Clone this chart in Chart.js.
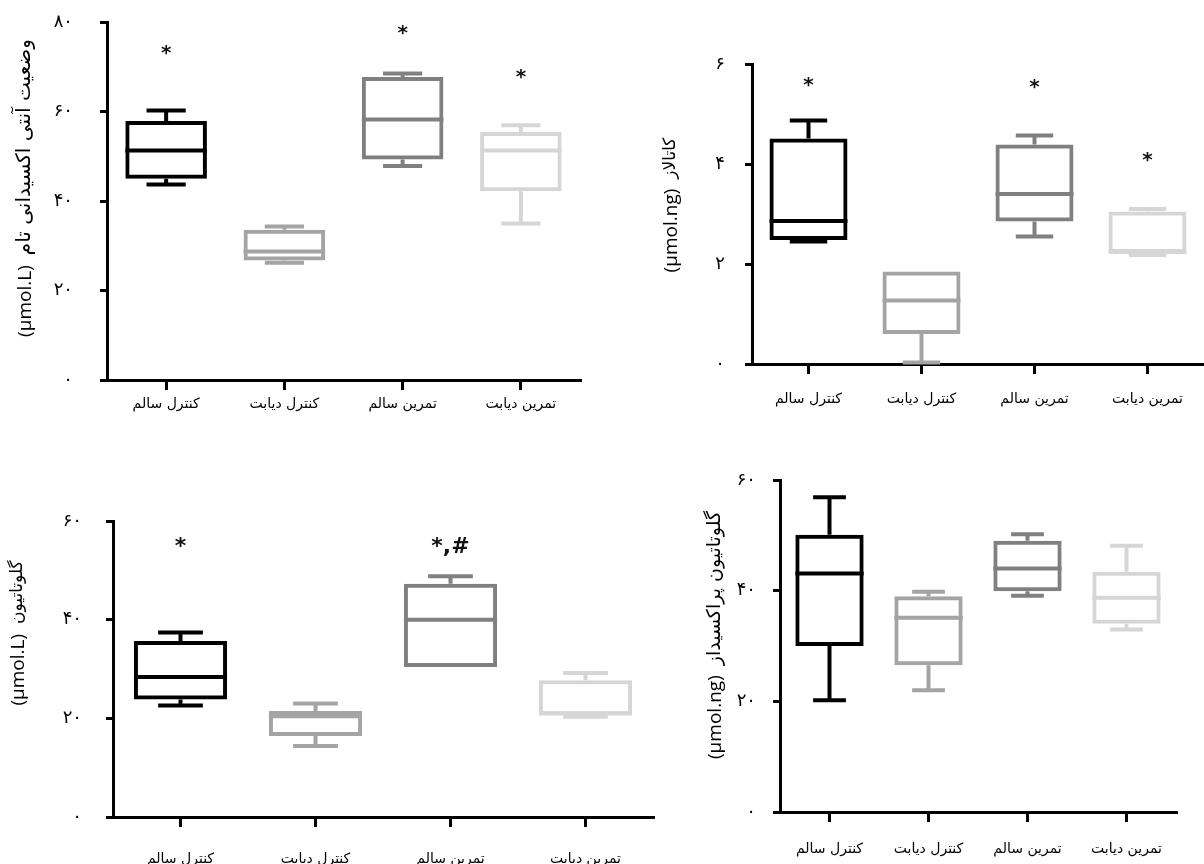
<!DOCTYPE html>
<html lang="fa">
<head>
<meta charset="utf-8">
<title>Box plots</title>
<script src="https://cdn.jsdelivr.net/npm/chart.js@4.4.1/dist/chart.umd.min.js"></script>
<style>
  html, body { margin: 0; padding: 0; background: #fff; }
  body { width: 1204px; height: 864px; position: relative; overflow: hidden; }
  canvas { position: absolute; }
</style>
</head>
<body>
<canvas id="tao" width="600" height="450" style="left:0;top:-20px"></canvas>
<canvas id="cat" width="594" height="430" style="left:610px;top:0"></canvas>
<canvas id="gsh" width="670" height="424" style="left:0;top:440px"></canvas>
<canvas id="gpx" width="524" height="424" style="left:680px;top:440px"></canvas>
<script>
const groups = ['کنترل سالم', 'کنترل دیابت', 'تمرین سالم', 'تمرین دیابت'];
const boxColors = ['#000000', '#a4a4a4', '#808080', '#d6d6d6'];

// total antioxidant status
const taoMin = [43.7, 26.2, 47.8, 35.0];
const taoQ1 = [45.0, 26.7, 49.3, 42.2];
const taoMed = [51.3, 28.7, 58.2, 51.3];
const taoQ3 = [57.9, 33.6, 67.7, 55.4];
const taoMax = [60.2, 34.3, 68.5, 56.9];
const taoMarks = ['*', '', '*', '*'];
const taoMarkAt = [73, null, 77.4, 67.6];
const taoTicks = [0, 20, 40, 60, 80];

// catalase
const catMin = [2.45, 0.03, 2.55, 2.18];
const catQ1 = [2.48, 0.60, 2.85, 2.22];
const catMed = [2.86, 1.27, 3.40, 2.24];
const catQ3 = [4.51, 1.85, 4.39, 3.05];
const catMax = [4.87, 1.85, 4.57, 3.10];
const catMarks = ['*', '', '*', '*'];
const catMarkAt = [5.57, null, 5.52, 4.07];
const catTicks = [0, 2, 4, 6];

// glutathione
const gshMin = [22.6, 14.4, 30.4, 20.3];
const gshQ1 = [23.8, 16.4, 30.4, 20.6];
const gshMed = [28.4, 20.4, 40.0, 21.0];
const gshQ3 = [35.7, 21.5, 47.3, 27.7];
const gshMax = [37.4, 23.0, 48.8, 29.2];
const gshMarks = ['*', '', '*,#', ''];
const gshMarkAt = [54.7, null, 54.7, null];
const gshTicks = [0, 20, 40, 60];

// glutathione peroxidase
const gpxMin = [20.2, 22.0, 39.1, 33.0];
const gpxQ1 = [30.0, 26.5, 39.9, 34.0];
const gpxMed = [43.1, 35.1, 44.0, 38.7];
const gpxQ3 = [50.1, 39.0, 49.0, 43.4];
const gpxMax = [56.9, 39.8, 50.2, 48.1];
const gpxMarks = ['', '', '', ''];
const gpxMarkAt = [null, null, null, null];
const gpxTicks = [0, 20, 40, 60];

Chart.defaults.font.family = '"DejaVu Sans", sans-serif';
Chart.defaults.color = '#000';

function fa(v) {
  return String(v).replace(/\d/g, d => '۰۱۲۳۴۵۶۷۸۹'[d]);
}

function makeBoxChart(id, s, lay) {
  const boxes = {
    id: 'boxes',
    afterDatasetsDraw(chart) {
      const ctx = chart.ctx;
      const y = chart.scales.y;
      const meta = chart.getDatasetMeta(0);
      meta.data.forEach((bar, i) => {
        const x = bar.x, w = bar.width, cap = w * 0.24;
        const pMax = y.getPixelForValue(s.max[i]);
        const pQ3 = y.getPixelForValue(s.q3[i]);
        const pMed = y.getPixelForValue(s.med[i]);
        const pQ1 = y.getPixelForValue(s.q1[i]);
        const pMin = y.getPixelForValue(s.min[i]);
        ctx.save();
        ctx.strokeStyle = boxColors[i];
        ctx.lineWidth = 4;
        ctx.beginPath();
        if (s.max[i] > s.q3[i]) {
          ctx.moveTo(x, pQ3); ctx.lineTo(x, pMax);
          ctx.moveTo(x - cap, pMax); ctx.lineTo(x + cap, pMax);
        }
        if (s.min[i] < s.q1[i]) {
          ctx.moveTo(x, pQ1); ctx.lineTo(x, pMin);
          ctx.moveTo(x - cap, pMin); ctx.lineTo(x + cap, pMin);
        }
        ctx.moveTo(x - w / 2, pMed); ctx.lineTo(x + w / 2, pMed);
        ctx.stroke();
        if (s.marks[i]) {
          ctx.fillStyle = '#111';
          ctx.font = 'bold ' + lay.markSize + 'px "DejaVu Sans", sans-serif';
          ctx.textAlign = 'center';
          ctx.textBaseline = 'middle';
          ctx.fillText(s.marks[i], x, y.getPixelForValue(s.markAt[i]));
        }
        ctx.restore();
      });
    }
  };

  const axisTitle = {
    id: 'axisTitle',
    afterDraw(chart) {
      const ctx = chart.ctx;
      ctx.save();
      ctx.translate(lay.titleX, lay.titleY);
      ctx.rotate(-Math.PI / 2);
      ctx.fillStyle = '#000';
      ctx.textBaseline = 'middle';
      ctx.textAlign = 'left';
      const latin = '19px "Open Sans", sans-serif';
      const pers = lay.titleSize + 'px "DejaVu Sans", sans-serif';
      ctx.font = latin;
      const w1 = ctx.measureText(lay.unit).width;
      ctx.font = pers;
      const w2 = ctx.measureText(lay.name).width;
      const gap = 10;
      const x0 = -(w1 + gap + w2) / 2;
      ctx.font = latin;
      ctx.fillText(lay.unit, x0, 1);
      ctx.font = pers;
      ctx.fillText(lay.name, x0 + w1 + gap, 0);
      ctx.restore();
    }
  };

  return new Chart(document.getElementById(id), {
    type: 'bar',
    data: {
      labels: groups,
      datasets: [{
        data: s.q1.map((v, i) => [v, s.q3[i]]),
        backgroundColor: 'rgba(255,255,255,0)',
        borderColor: boxColors,
        borderWidth: 4,
        borderSkipped: false,
        barPercentage: 0.69,
        categoryPercentage: 1
      }]
    },
    plugins: [boxes, axisTitle],
    options: {
      responsive: false,
      animation: false,
      layout: { padding: { top: lay.top, right: lay.right, left: 0, bottom: 0 } },
      plugins: { legend: { display: false }, tooltip: { enabled: false } },
      scales: {
        x: {
          grid: { offset: false, drawOnChartArea: false, tickLength: 10, lineWidth: 3, color: '#000' },
          border: { color: '#000', width: 3 },
          ticks: { color: '#000', font: { size: 14 }, padding: lay.xPad, maxRotation: 0, autoSkip: false },
          afterFit: sc => { sc.height = lay.xH; }
        },
        y: {
          min: 0,
          max: s.ticks[s.ticks.length - 1],
          afterBuildTicks: sc => { sc.ticks = s.ticks.map(v => ({ value: v })); },
          grid: { drawOnChartArea: false, tickLength: 7, lineWidth: 3, color: '#000' },
          border: { color: '#000', width: 3 },
          ticks: { color: '#000', font: { size: 18 }, padding: lay.yPad, callback: v => fa(v) },
          afterFit: sc => { sc.width = lay.left; }
        }
      }
    }
  });
}

makeBoxChart('tao',
  { min: taoMin, q1: taoQ1, med: taoMed, q3: taoQ3, max: taoMax, marks: taoMarks, markAt: taoMarkAt, ticks: taoTicks },
  { left: 107, top: 42, right: 20, xH: 50, xPad: 6, yPad: 27, markSize: 20,
    titleX: 25, titleY: 208, titleSize: 20, unit: '(µmol.L)', name: 'وضعیت آنتی اکسیدانی تام' });

makeBoxChart('cat',
  { min: catMin, q1: catQ1, med: catMed, q3: catQ3, max: catMax, marks: catMarks, markAt: catMarkAt, ticks: catTicks },
  { left: 142, top: 64, right: 0, xH: 66, xPad: 17, yPad: 20, markSize: 20,
    titleX: 61, titleY: 205, titleSize: 17, unit: '(µmol.ng)', name: 'کاتالاز' });

makeBoxChart('gsh',
  { min: gshMin, q1: gshQ1, med: gshMed, q3: gshQ3, max: gshMax, marks: gshMarks, markAt: gshMarkAt, ticks: gshTicks },
  { left: 113, top: 81, right: 17, xH: 47, xPad: 24, yPad: 24, markSize: 22,
    titleX: 18, titleY: 193, titleSize: 17, unit: '(µmol.L)', name: 'گلوتاتیون' });

makeBoxChart('gpx',
  { min: gpxMin, q1: gpxQ1, med: gpxMed, q3: gpxQ3, max: gpxMax, marks: gpxMarks, markAt: gpxMarkAt, ticks: gpxTicks },
  { left: 100, top: 40, right: 28, xH: 52, xPad: 19, yPad: 17, markSize: 20,
    titleX: 35, titleY: 195, titleSize: 19, unit: '(µmol.ng)', name: 'گلوتاتیون پراکسیداز' });
</script>
</body>
</html>
